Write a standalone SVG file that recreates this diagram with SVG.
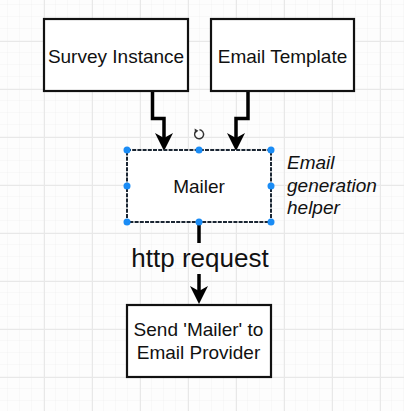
<svg xmlns="http://www.w3.org/2000/svg" width="404" height="411" viewBox="0 0 404 411">
  <defs>
    <pattern id="minor" width="12" height="12" patternUnits="userSpaceOnUse" x="8" y="5">
      <path d="M12 0 V12 M0 12 H12" fill="none" stroke="#f2f2f2" stroke-width="1"/>
    </pattern>
    <pattern id="major" width="48" height="48" patternUnits="userSpaceOnUse" x="44" y="41">
      <path d="M0.5 0 V48 M0 0.5 H48" fill="none" stroke="#e8e8e8" stroke-width="1"/>
    </pattern>
    <marker id="arrow" viewBox="0 0 18 18" refX="8" refY="9" markerWidth="18" markerHeight="18" markerUnits="userSpaceOnUse" orient="auto">
      <path d="M0,0 L18,9 L0,18 L5,9 Z" fill="#000"/>
    </marker>
    <style>
      .box { fill: #fff; stroke: #111; stroke-width: 2.2; }
      .lbl { font-family: "Liberation Sans", Arial, Helvetica, sans-serif; font-size: 19px; fill: #111; text-anchor: middle; }
      .conn { fill: none; stroke: #000; stroke-width: 3.5; stroke-linejoin: miter; }
      .handle { fill: #1a8cf5; }
    </style>
  </defs>
  <rect width="404" height="411" fill="#fdfdfd"/>
  <rect width="404" height="411" fill="url(#minor)"/>
  <rect width="404" height="411" fill="url(#major)"/>

  <g id="connectors">
    <path class="conn" d="M152.5 91 V118.5 H164 V141" marker-end="url(#arrow)"/>
    <path class="conn" d="M248 91 V118.5 H236 V141" marker-end="url(#arrow)"/>
    <path class="conn" d="M199 222 V243"/>
    <path class="conn" d="M199 274 V294" marker-end="url(#arrow)"/>
    <text x="200" y="266.5" font-family="Liberation Sans, Arial, sans-serif" font-size="26" fill="#111" text-anchor="middle">http request</text>
  </g>

  <g id="survey-instance">
    <rect class="box" x="44" y="19" width="144" height="72"/>
    <text class="lbl" x="116" y="62.5">Survey Instance</text>
  </g>

  <g id="email-template">
    <rect class="box" x="211" y="19" width="143" height="72"/>
    <text class="lbl" x="282.5" y="62.5">Email Template</text>
  </g>

  <g id="mailer">
    <rect x="127" y="150" width="144" height="72" fill="#fff" stroke="#1b2633" stroke-width="2" stroke-dasharray="4 1.2"/>
    <text class="lbl" x="199" y="192.5">Mailer</text>
    <circle class="handle" cx="127" cy="150" r="3.5"/>
    <circle class="handle" cx="199" cy="150" r="3.5"/>
    <circle class="handle" cx="271" cy="150" r="3.5"/>
    <circle class="handle" cx="127" cy="186" r="3.5"/>
    <circle class="handle" cx="271" cy="186" r="3.5"/>
    <circle class="handle" cx="127" cy="222" r="3.5"/>
    <circle class="handle" cx="199" cy="222" r="3.5"/>
    <circle class="handle" cx="271" cy="222" r="3.5"/>
    <path d="M195.8 131.2 A4.5 4.5 0 1 0 199.5 129.8" fill="none" stroke="#333" stroke-width="1.4"/>
    <path d="M194.6 128.4 L198.4 130.8 L195 133.4 Z" fill="#333"/>
  </g>

  <g id="note">
    <text font-family="Liberation Sans, Arial, sans-serif" font-size="19" font-style="italic" fill="#111">
      <tspan x="287" y="169">Email</tspan>
      <tspan x="287" y="191.5">generation</tspan>
      <tspan x="287" y="214">helper</tspan>
    </text>
  </g>

  <g id="send-mailer">
    <rect class="box" x="127" y="305" width="144" height="72"/>
    <text class="lbl" x="198.5" y="336">Send 'Mailer' to</text>
    <text class="lbl" x="198.5" y="359">Email Provider</text>
  </g>
</svg>
